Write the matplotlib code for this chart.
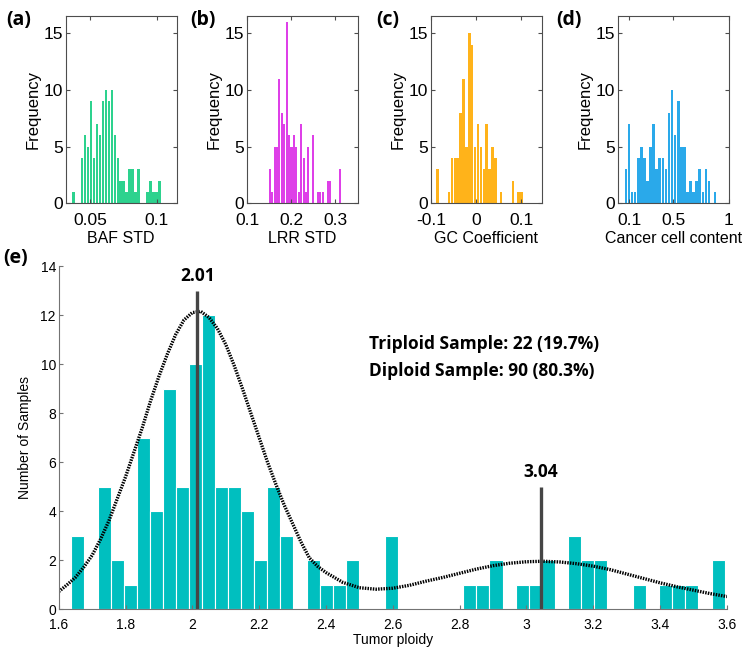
import numpy as np
import matplotlib
matplotlib.use('Agg')
import matplotlib.pyplot as plt
from matplotlib import rcParams

rcParams.update({
    'font.family': ['Liberation Sans', 'DejaVu Sans'],
    'xtick.direction': 'in', 'ytick.direction': 'in',
    'axes.linewidth': 0.8,
})
BOLD = ['Open Sans', 'DejaVu Sans']

# ---------- top row: per-sample QC histograms (30 bins each) ----------
baf_start, baf_width = 0.0375, 0.002226
baf_counts = [1, 0, 0, 4, 6, 5, 9, 4, 7, 6, 9, 10, 9, 10, 6, 4, 2, 2, 1, 3,
              3, 1, 3, 0, 0, 1, 2, 1, 1, 2]
lrr_start, lrr_width = 0.1515, 0.005455
lrr_counts = [3, 1, 5, 5, 11, 8, 7, 16, 6, 5, 6, 5, 1, 7, 4, 1, 5, 0, 6, 0,
              1, 1, 1, 0, 2, 2, 0, 0, 0, 3]
gc_start, gc_width = -0.0861, 0.00644
gc_counts = [3, 0, 0, 0, 1, 4, 4, 4, 8, 11, 5, 15, 14, 5, 7, 5, 3, 7, 3, 5,
             4, 0, 1, 0, 0, 0, 2, 0, 1, 1]
ccc_start, ccc_width = 0.072, 0.0278
ccc_counts = [3, 7, 1, 1, 4, 5, 4, 2, 5, 7, 3, 4, 4, 3, 8, 10, 6, 9, 5, 5,
              1, 2, 1, 2, 3, 1, 3, 2, 0, 1]

panels = [
    ('(a)', 'BAF STD', baf_start, baf_width, baf_counts, '#2DD28E',
     (0.032, 0.115), [0.05, 0.1], ['0.05', '0.1']),
    ('(b)', 'LRR STD', lrr_start, lrr_width, lrr_counts, '#DE40E8',
     (0.1, 0.35), [0.1, 0.2, 0.3], ['0.1', '0.2', '0.3']),
    ('(c)', 'GC Coefficient', gc_start, gc_width, gc_counts, '#FFB31A',
     (-0.1, 0.145), [-0.1, 0, 0.1], ['-0.1', '0', '0.1']),
    ('(d)', 'Cancer cell content', ccc_start, ccc_width, ccc_counts, '#2AA9EA',
     (0.0, 1.0), [0.1, 0.5, 1], ['0.1', '0.5', '1']),
]
panel_left = [0.0889, 0.3329, 0.5809, 0.8329]
tag_x = [0.008, 0.257, 0.507, 0.750]

# ---------- bottom: tumor ploidy histogram (50 bins) ----------
ploidy_start, ploidy_width = 1.638, 0.0391
ploidy_counts = [3, 0, 5, 2, 1, 7, 4, 9, 5, 10, 12, 5, 5, 4, 2, 5, 3, 0, 2, 1,
                 1, 2, 0, 0, 3, 0, 0, 0, 0, 0, 1, 1, 2, 0, 1, 1, 2, 0, 3, 2,
                 2, 0, 0, 1, 0, 1, 1, 1, 0, 2]
# fitted mixture density
fit_x = [1.600, 1.625, 1.650, 1.675, 1.700, 1.725, 1.750, 1.775, 1.800, 1.825,
         1.850, 1.875, 1.900, 1.925, 1.950, 1.975, 2.000, 2.025, 2.050, 2.075,
         2.100, 2.125, 2.150, 2.175, 2.200, 2.225, 2.250, 2.275, 2.300, 2.325,
         2.350, 2.375, 2.400, 2.450, 2.500, 2.550, 2.600, 2.650, 2.700, 2.750,
         2.800, 2.850, 2.900, 2.950, 3.000, 3.050, 3.100, 3.150, 3.200, 3.250,
         3.300, 3.350, 3.400, 3.450, 3.500, 3.550, 3.600]
fit_y = [0.72, 1.0, 1.3, 1.72, 2.2, 2.85, 3.6, 4.5, 5.4, 6.4,
         7.4, 8.5, 9.5, 10.4, 11.2, 11.8, 12.1, 12.15, 11.9, 11.45,
         10.8, 9.95, 9.0, 8.0, 7.0, 6.0, 5.1, 4.25, 3.5, 2.75,
         2.1, 1.75, 1.5, 1.1, 0.88, 0.82, 0.86, 0.98, 1.15, 1.3,
         1.47, 1.64, 1.78, 1.88, 1.94, 1.96, 1.93, 1.86, 1.76, 1.62,
         1.44, 1.26, 1.08, 0.92, 0.78, 0.64, 0.52]
peak_x = [2.015, 3.043]
peak_top = [13, 5]
peak_labels = ['2.01', '3.04']
summary = ['Triploid Sample: 22 (19.7%)', 'Diploid Sample: 90 (80.3%)']

fig = plt.figure(figsize=(7.42, 6.48), dpi=100)

for (tag, xlab, start, width, counts, col, xlim, xt, xtl), left, tx in zip(panels, panel_left, tag_x):
    ax = fig.add_axes([left, 0.686, 0.149, 0.2886])
    centers = start + width * np.arange(len(counts))
    ax.bar(centers, counts, width=width * 0.85, color=col, edgecolor='none')
    ax.set_xlim(*xlim); ax.set_ylim(0, 16.5)
    ax.set_yticks([0, 5, 10, 15])
    ax.set_xticks(xt); ax.set_xticklabels(xtl)
    ax.tick_params(labelsize=12.5, top=True, right=True, length=3,
                   color='0.3')
    ax.tick_params(axis='x', pad=7)
    ax.tick_params(axis='y', pad=2)
    for s in ax.spines.values():
        s.set_color('0.3')
    ax.set_ylabel('Frequency', fontsize=12, labelpad=2)
    ax.set_xlabel(xlab, fontsize=11.5, labelpad=2)
    fig.text(tx, 0.985, tag, fontsize=14, fontweight='bold',
             family=BOLD, va='top')

ax = fig.add_axes([0.0791, 0.0597, 0.9006, 0.5298])
centers = ploidy_start + ploidy_width * (np.arange(len(ploidy_counts)) + 0.5)
ax.bar(centers, ploidy_counts, width=ploidy_width, color='#00BFBF',
       edgecolor='white', linewidth=0.8)
ax.plot(fit_x, fit_y, color='black', lw=2.4, ls=(0, (0.45, 0.35)))
for px, top, lab in zip(peak_x, peak_top, peak_labels):
    ax.plot([px, px], [0, top], color='#454545', lw=2.4, solid_capstyle='butt')
    ax.text(px, top + 0.6, lab, ha='center', va='center', fontsize=12.5,
            fontweight='bold', family=BOLD)
ax.text(2.53, 10.8, summary[0], fontsize=12.5, fontweight='bold', family=BOLD,
        va='center')
ax.text(2.53, 9.7, summary[1], fontsize=12.5, fontweight='bold', family=BOLD,
        va='center')
ax.set_xlim(1.6, 3.6); ax.set_ylim(0, 14)
ax.set_xticks(np.round(np.arange(1.6, 3.61, 0.2), 1))
ax.set_xticklabels(['1.6', '1.8', '2', '2.2', '2.4', '2.6', '2.8', '3', '3.2', '3.4', '3.6'])
ax.set_yticks(range(0, 15, 2))
ax.spines['top'].set_visible(False); ax.spines['right'].set_visible(False)
for s in ('left', 'bottom'):
    ax.spines[s].set_color('0.45')
ax.tick_params(labelsize=10, length=3, color='0.45')
ax.tick_params(axis='x', pad=6)
ax.tick_params(axis='y', pad=2)
ax.set_xlabel('Tumor ploidy', fontsize=10, labelpad=1)
ax.set_ylabel('Number of Samples', fontsize=10, labelpad=6)
fig.text(0.004, 0.602, '(e)', fontsize=14, fontweight='bold', family=BOLD,
         va='center')

fig.savefig('out.png', dpi=100)
